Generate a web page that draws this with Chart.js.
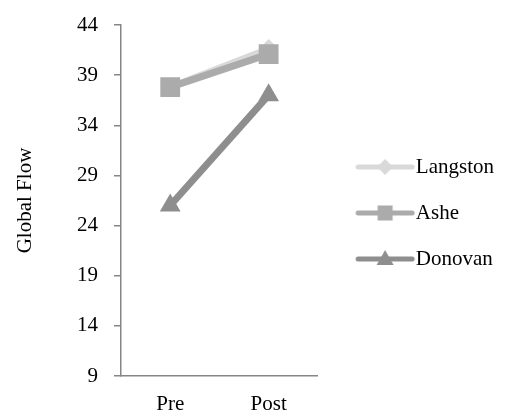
<!DOCTYPE html>
<html>
<head>
<meta charset="utf-8">
<script src="https://cdn.jsdelivr.net/npm/chart.js@4"></script>
<style>
  html, body { margin: 0; padding: 0; background: #fff; }
  #wrap { width: 518px; height: 418px; }
</style>
</head>
<body>
<div id="wrap"><canvas id="c" width="518" height="418"></canvas></div>
<script>
const categories = ['Pre', 'Post'];
const seriesNames = ['Langston', 'Ashe', 'Donovan'];
const langston = [37.8, 41.6];
const ashe = [37.8, 41.1];
const donovan = [26.0, 37.0];
const yTicks = [9, 14, 19, 24, 29, 34, 39, 44];

const FONT = '"Liberation Serif", "DejaVu Serif", serif';
const FS = 21;
const colors = ['#d9d9d9', '#ababab', '#8e8e8e'];
const markers = ['rectRot', 'rect', 'triangle'];

// Legend swatch: a short rounded line with the series marker on top.
// The canvas is padded on the left so the line sits closer to its label.
function swatch(color, marker) {
  const w = 84, h = 24;
  const x0 = 24, x1 = 82, cx = 53, cy = h / 2;
  const cv = document.createElement('canvas');
  cv.width = w; cv.height = h;
  const g = cv.getContext('2d');
  g.strokeStyle = color; g.fillStyle = color;
  g.lineWidth = 5; g.lineCap = 'round';
  g.beginPath(); g.moveTo(x0 + 2, cy); g.lineTo(x1 - 2, cy); g.stroke();
  g.beginPath();
  if (marker === 'rect') {
    g.rect(cx - 7.5, cy - 7.5, 15, 15);
  } else if (marker === 'rectRot') {
    g.moveTo(cx, cy - 8); g.lineTo(cx + 8, cy); g.lineTo(cx, cy + 8); g.lineTo(cx - 8, cy);
  } else {
    g.moveTo(cx, cy - 9); g.lineTo(cx + 8.5, cy + 6); g.lineTo(cx - 8.5, cy + 6);
  }
  g.closePath(); g.fill();
  return cv;
}

const values = [langston, ashe, donovan];
const radii = [10, 14, 12];
const datasets = seriesNames.map((name, i) => ({
  label: name,
  data: values[i],
  borderColor: colors[i],
  backgroundColor: colors[i],
  borderWidth: 7,
  pointStyle: markers[i],
  pointRadius: radii[i],
  pointHoverRadius: radii[i],
  pointBorderWidth: 0,
  pointBackgroundColor: colors[i],
  order: 3 - i,
  tension: 0,
  legendSwatch: swatch(colors[i], markers[i])
}));

new Chart(document.getElementById('c'), {
  type: 'line',
  data: { labels: categories, datasets },
  options: {
    responsive: false,
    animation: false,
    devicePixelRatio: 1,
    layout: { padding: { left: 2, right: 14, top: 9, bottom: 1 } },
    plugins: {
      tooltip: { enabled: false },
      legend: {
        position: 'right',
        maxWidth: 260,
        labels: {
          usePointStyle: true,
          pointStyleWidth: 62.5,
          padding: 25,
          color: '#000',
          font: { family: FONT, size: FS },
          sort: (a, b) => a.datasetIndex - b.datasetIndex,
          generateLabels: (chart) => chart.data.datasets.map((ds, i) => ({
            text: ds.label,
            pointStyle: ds.legendSwatch,
            fillStyle: ds.borderColor,
            strokeStyle: ds.borderColor,
            lineWidth: 0,
            datasetIndex: i,
            hidden: false
          }))
        }
      }
    },
    scales: {
      x: {
        offset: true,
        grid: { display: false, drawTicks: false },
        border: { display: true, color: '#868686', width: 1.5 },
        ticks: { color: '#000', font: { family: FONT, size: FS }, padding: 16 },
        afterFit: (axis) => { axis.height = 41; }
      },
      y: {
        min: 9,
        max: 44,
        afterBuildTicks: (axis) => { axis.ticks = yTicks.map(v => ({ value: v })); },
        afterFit: (axis) => { axis.width = 119; axis.paddingTop = 25; axis.paddingBottom = 0; },
        grid: { drawOnChartArea: false, color: '#868686', tickLength: 7, lineWidth: 1.5 },
        border: { display: true, color: '#868686', width: 1.5 },
        ticks: { color: '#000', font: { family: FONT, size: FS }, padding: 16 },
        title: { display: true, text: 'Global Flow', color: '#000', font: { family: FONT, size: FS }, padding: { top: 11, bottom: 35 } }
      }
    }
  }
});
</script>
</body>
</html>
